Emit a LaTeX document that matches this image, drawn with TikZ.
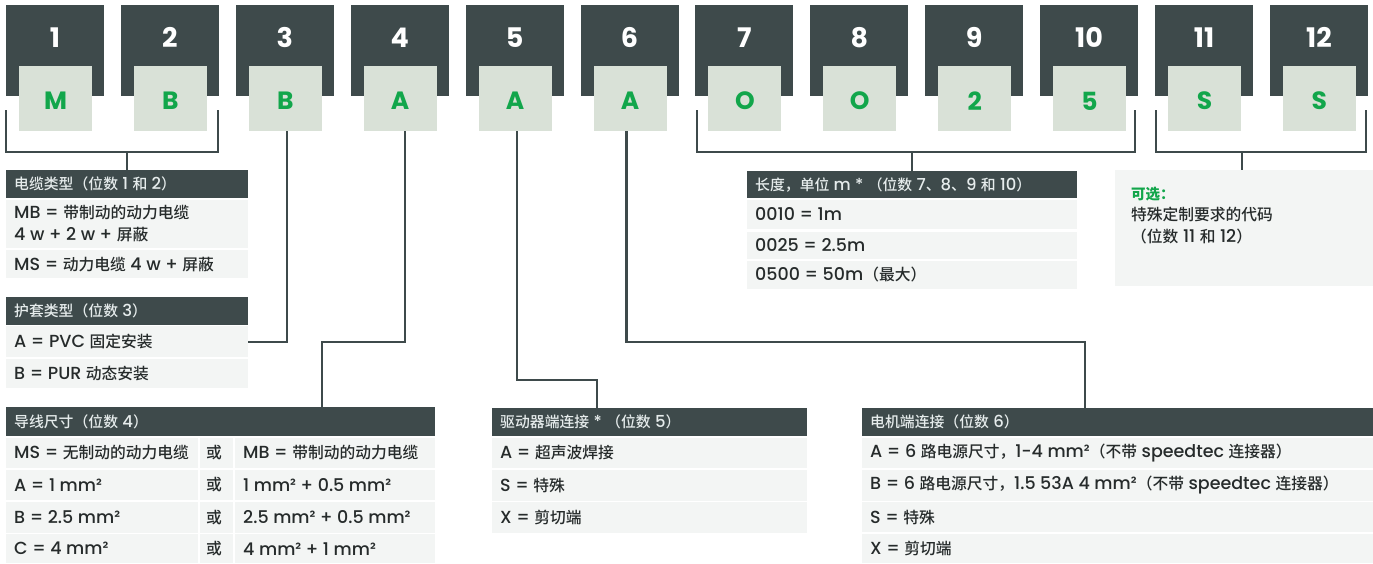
\documentclass[tikz,border=0pt]{standalone}
\usepackage{fontspec}
\setmainfont{Poppins Medium}[BoldFont=Poppins Bold]
\newfontfamily\cjk{Noto Sans CJK SC Medium}[Scale=0.9]
\newfontfamily\cjkb{Noto Sans CJK SC}
\newcommand\C[1]{{\cjk #1}}
\definecolor{dk}{HTML}{3E4A4B}
\definecolor{lt}{HTML}{D9E1D7}
\definecolor{gr}{HTML}{12A64B}
\definecolor{rowbg}{HTML}{F3F5F4}
\definecolor{txt}{HTML}{262B2B}
\definecolor{htxt}{HTML}{E6ECEC}
\tikzset{
  darkbox/.style={fill=dk, minimum width=98, minimum height=91, inner sep=0},
  litebox/.style={fill=lt, minimum width=73, minimum height=65, inner sep=0},
  numtxt/.style={text=white, inner sep=0, font=\bfseries\fontsize{27}{27}\selectfont},
  lettxt/.style={text=gr, inner sep=0, font=\bfseries\fontsize{25}{25}\selectfont},
  hdrbg/.style={fill=dk, anchor=north west, inner sep=0},
  cellbg/.style={fill=rowbg, anchor=north west, inner sep=0},
  hdrtxt/.style={text=htxt, anchor=west, inner sep=0, font=\fontsize{16.5}{18}\selectfont},
  celltxt/.style={text=txt, anchor=west, inner sep=0, align=left, font=\fontsize{17.5}{22}\selectfont},
  conn/.style={draw=dk, line width=2.2}
}
% name, x, y, w, h, text
\newcommand\mkhdr[6]{%
  \node[hdrbg, minimum width=#4, minimum height=#5] (#1) at (#2,#3) {};
  \node[hdrtxt] (#1t) at ([xshift=8]#1.west) {#6};}
\newcommand\mkcell[6]{%
  \node[cellbg, minimum width=#4, minimum height=#5] (#1) at (#2,#3) {};
  \node[celltxt] (#1t) at ([xshift=8]#1.west) {#6};}
\begin{document}
\begin{tikzpicture}[x=1pt,y=-1pt]
\useasboundingbox (0,0) rectangle (1373,563);
% top code boxes
\foreach \i/\l in {1/M,2/B,3/B,4/A,5/A,6/A,7/O,8/O,9/2,10/5,11/S,12/S}{
  \pgfmathsetmacro\cx{55+114.9*(\i-1)}
  \node[darkbox] (d\i) at (\cx,50.5) {};
  \node[numtxt] (n\i) at (\cx,37.5) {\i};
  \node[litebox] (l\i) at (\cx+0.5,98.5) {};
  \node[lettxt] (g\i) at (\cx+0.5,101) {\l};
}
% table 1
\mkhdr{t1h}{6}{170}{242}{28}{\C{电缆类型（位数} 1 \C{和} 2\C{）}}
\mkcell{t1a}{6}{199.5}{242}{48.5}{MB = \C{带制动的动力电缆}\\4 w + 2 w + \C{屏蔽}}
\mkcell{t1b}{6}{250}{242}{28}{MS = \C{动力电缆} 4 w + \C{屏蔽}}
% table 2
\mkhdr{t2h}{6}{297}{242}{28}{\C{护套类型（位数} 3\C{）}}
\mkcell{t2a}{6}{326}{242}{31}{A = PVC \C{固定安装}}
\mkcell{t2b}{6}{358.5}{242}{29}{B = PUR \C{动态安装}}
% table 3
\mkhdr{t3h}{6}{407}{429}{29}{\C{导线尺寸（位数} 4\C{）}}
\mkcell{t3a}{6}{437.5}{192}{30.5}{MS = \C{无制动的动力电缆}}
\mkcell{t3ao}{200}{437.5}{33}{30.5}{}
\node[celltxt] (t3aor) at ([xshift=6]t3ao.west) {\C{或}};
\mkcell{t3am}{235}{437.5}{200}{30.5}{MB = \C{带制动的动力电缆}}
\mkcell{t3b}{6}{469.5}{192}{30.5}{A = 1 mm²}
\mkcell{t3bo}{200}{469.5}{33}{30.5}{}
\node[celltxt] (t3bor) at ([xshift=6]t3bo.west) {\C{或}};
\mkcell{t3bm}{235}{469.5}{200}{30.5}{1 mm² + 0.5 mm²}
\mkcell{t3c}{6}{501.5}{192}{31}{B = 2.5 mm²}
\mkcell{t3co}{200}{501.5}{33}{31}{}
\node[celltxt] (t3cor) at ([xshift=6]t3co.west) {\C{或}};
\mkcell{t3cm}{235}{501.5}{200}{31}{2.5 mm² + 0.5 mm²}
\mkcell{t3d}{6}{534}{192}{29}{C = 4 mm²}
\mkcell{t3do}{200}{534}{33}{29}{}
\node[celltxt] (t3dor) at ([xshift=6]t3do.west) {\C{或}};
\mkcell{t3dm}{235}{534}{200}{29}{4 mm² + 1 mm²}
% table 4
\mkhdr{t4h}{492}{408}{315}{28}{\C{驱动器端连接} * \C{（位数} 5\C{）}}
\mkcell{t4a}{492}{437.5}{315}{30.5}{A = \C{超声波焊接}}
\mkcell{t4b}{492}{470}{315}{30.5}{S = \C{特殊}}
\mkcell{t4c}{492}{502}{315}{31}{X = \C{剪切端}}
% table 5
\mkhdr{t5h}{862}{408}{511}{28}{\C{电机端连接（位数} 6\C{）}}
\mkcell{t5a}{862}{437.5}{511}{30.5}{A = 6 \C{路电源尺寸，}1-4 mm²\C{（不带} speedtec \C{连接器）}}
\mkcell{t5b}{862}{470}{511}{30.5}{B = 6 \C{路电源尺寸，}1.5 53A 4 mm²\C{（不带} speedtec \C{连接器）}}
\mkcell{t5c}{862}{502}{511}{30}{S = \C{特殊}}
\mkcell{t5d}{862}{534}{511}{29}{X = \C{剪切端}}
% table 6
\mkhdr{t6h}{747}{171}{330}{27}{\C{长度，单位} m * \C{（位数} 7\C{、}8\C{、}9 \C{和} 10\C{）}}
\mkcell{t6a}{747}{199.5}{330}{29.5}{0010 = 1m}
\mkcell{t6b}{747}{231.5}{330}{27.5}{0025 = 2.5m}
\mkcell{t6c}{747}{260.5}{330}{28}{0500 = 50m\C{（最大）}}
% optional box
\node[cellbg, minimum width=258, minimum height=116] (opt) at (1115,170) {};
\node[text=gr, anchor=west, inner sep=0, font=\cjkb\bfseries\fontsize{14.5}{16}\selectfont] (optt) at (1131,194) {可选：};
\node[celltxt, anchor=north west] (optb) at (1131,207) {\C{特殊定制要求的代码}\\\C{（位数} 11 \C{和} 12\C{）}};
% connectors
\coordinate (b12l) at (6,110);
\coordinate (b12r) at (218,110);
\coordinate (b12s) at (127,152);
\draw[conn] (b12l) |- (b12s) -| (b12r);
\draw[conn] (b12s) -- (b12s |- t1h.north);
\coordinate (b710l) at (697,110);
\coordinate (b710r) at (1135,110);
\coordinate (b710s) at (912,152);
\draw[conn] (b710l) |- (b710s) -| (b710r);
\draw[conn] (b710s) -- (b710s |- t6h.north);
\coordinate (b1112l) at (1156,110);
\coordinate (b1112r) at (1366,110);
\coordinate (b1112s) at (1242,152);
\draw[conn] (b1112l) |- (b1112s) -| (b1112r);
\draw[conn] (b1112s) -- (b1112s |- opt.north);
\draw[conn] ([xshift=1.5]l3.south) |- (t2a.east);
\coordinate (k4) at (322,342);
\draw[conn] ([xshift=4.5]l4.south) |- (k4) -- (k4 |- t3h.north);
\coordinate (k5) at (597,380);
\draw[conn] ([xshift=1.5]l5.south) |- (k5) -- (k5 |- t4h.north);
\coordinate (k6) at (1085,342);
\draw[conn] ([xshift=-3.5]l6.south) |- (k6) -- (k6 |- t5h.north);
\end{tikzpicture}
\end{document}
